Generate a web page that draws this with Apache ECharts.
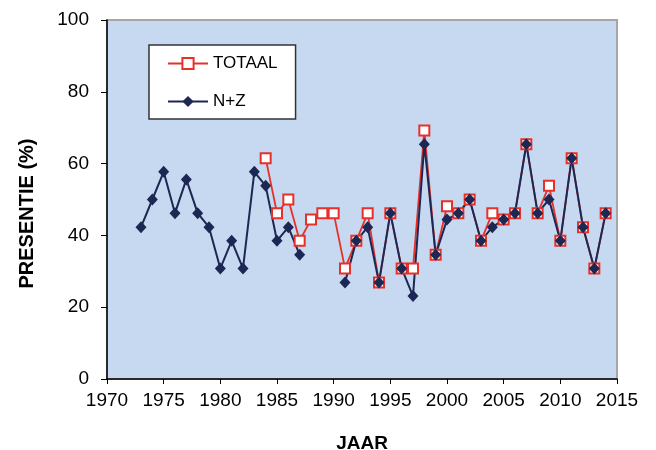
<!DOCTYPE html>
<html>
<head>
<meta charset="utf-8">
<script src="https://cdn.jsdelivr.net/npm/echarts@6/dist/echarts.min.js"></script>
<style>
html,body{margin:0;padding:0;background:#fff;}
#c{width:656px;height:450px;}
</style>
</head>
<body>
<div id="c"></div>
<script>
var years = [1973,1974,1975,1976,1977,1978,1979,1980,1981,1982,1983,1984,1985,1986,1987,1988,1989,1990,1991,1992,1993,1994,1995,1996,1997,1998,1999,2000,2001,2002,2003,2004,2005,2006,2007,2008,2009,2010,2011,2012,2013,2014];
var totaal = [null,null,null,null,null,null,null,null,null,null,null,61.5,46.2,50.0,38.5,44.4,46.2,46.2,30.8,38.5,46.2,26.9,46.2,30.8,30.8,69.2,34.6,48.1,46.2,50.0,38.5,46.2,44.4,46.2,65.4,46.2,53.8,38.5,61.5,42.3,30.8,46.2];
var nz = [42.3,50.0,57.7,46.2,55.6,46.2,42.3,30.8,38.5,30.8,57.7,53.8,38.5,42.3,34.6,null,null,null,26.9,38.5,42.3,26.9,46.2,30.8,23.1,65.4,34.6,44.4,46.2,50.0,38.5,42.3,44.4,46.2,65.4,46.2,50.0,38.5,61.5,42.3,30.8,46.2];
var seriesNames = ['TOTAAL','N+Z'];

function pairs(vals){ return years.map(function(y,i){ return [y, vals[i]]; }); }

var font = '"Liberation Sans", Arial, sans-serif';
var chart = echarts.init(document.getElementById('c'), null, {renderer:'canvas'});
chart.setOption({
  animation:false,
  backgroundColor:'#ffffff',
  grid:{left:107,right:39,top:20,bottom:71,show:true,outerBoundsMode:'none',containLabel:false,backgroundColor:'#C6D9F0',borderColor:'#A6A6A6',borderWidth:2},
  legend:{
    orient:'vertical', left:149, top:45,
    backgroundColor:'#ffffff', borderColor:'#333333', borderWidth:1.5,
    padding:[10,18,9,18], itemGap:21, itemWidth:40, itemHeight:14,
    textStyle:{fontFamily:font,fontSize:17,color:'#000'},
    data:seriesNames
  },
  xAxis:{
    type:'value', min:1970, max:2015, interval:5,
    name:'JAAR', nameLocation:'middle', nameGap:55,
    nameTextStyle:{fontFamily:font,fontSize:19,fontWeight:'bold',color:'#000'},
    axisLine:{show:true,onZero:false,lineStyle:{color:'#000',width:1.5}},
    axisTick:{show:true,length:5,lineStyle:{color:'#000'}},
    axisLabel:{fontFamily:font,fontSize:19,color:'#000',margin:12,formatter:function(v){return String(v);}},
    splitLine:{show:false}
  },
  yAxis:{
    type:'value', min:0, max:100, interval:20,
    name:'PRESENTIE (%)', nameLocation:'middle', nameGap:70,
    nameTextStyle:{fontFamily:font,fontSize:20,fontWeight:'bold',color:'#000',padding:[0,28,0,0]},
    axisLine:{show:true,lineStyle:{color:'#000',width:1.5}},
    axisTick:{show:true,length:6,lineStyle:{color:'#000'}},
    axisLabel:{fontFamily:font,fontSize:19,color:'#000',margin:18},
    splitLine:{show:false}
  },
  series:[
    {name:seriesNames[0], type:'line', data:pairs(totaal), connectNulls:false,
     symbol:'rect', symbolSize:10, showAllSymbol:true,
     lineStyle:{color:'#E8302A',width:1.8},
     itemStyle:{color:'#ffffff',borderColor:'#E8302A',borderWidth:2}},
    {name:seriesNames[1], type:'line', data:pairs(nz), connectNulls:false,
     symbol:'diamond', symbolSize:[11,12], showAllSymbol:true,
     lineStyle:{color:'#1C2753',width:2},
     itemStyle:{color:'#1C2753',borderColor:'#1C2753',borderWidth:0}}
  ]
});
</script>
</body>
</html>
